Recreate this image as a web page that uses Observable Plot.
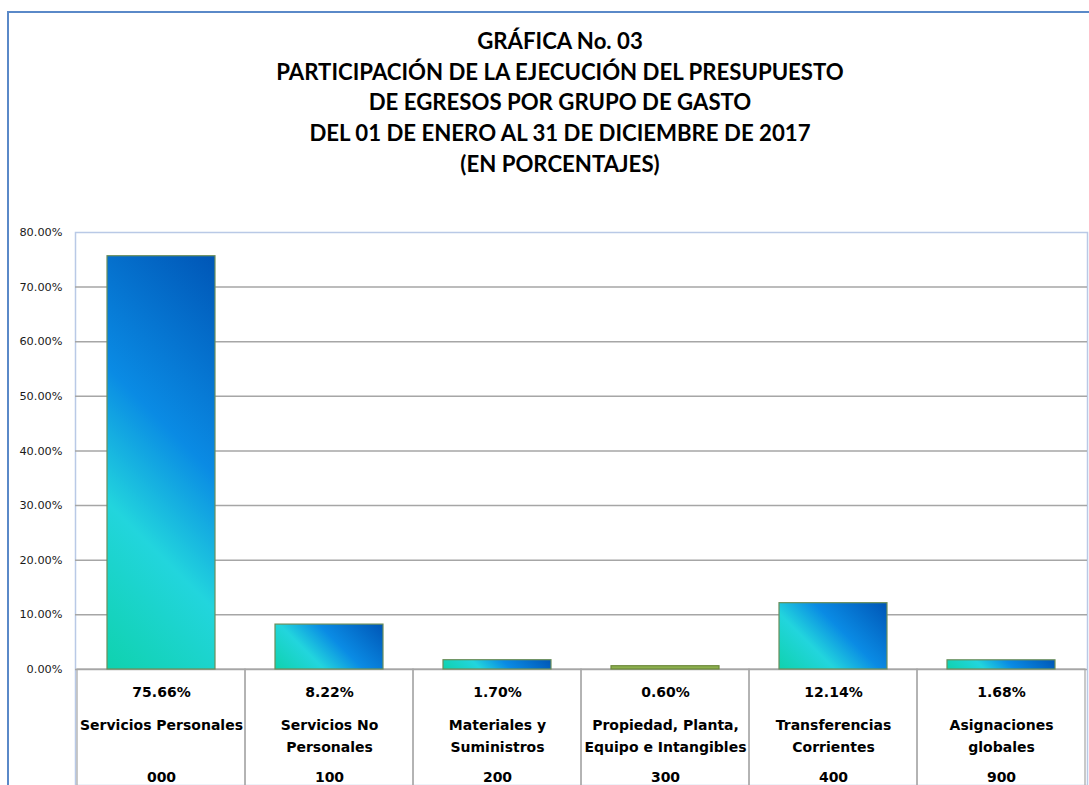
<!DOCTYPE html>
<html><head><meta charset="utf-8">
<script src="https://cdn.jsdelivr.net/npm/d3@7"></script>
<script src="https://cdn.jsdelivr.net/npm/@observablehq/plot@0.6"></script>
<style>
body{margin:0;background:#fff;width:1089px;height:785px;overflow:hidden;position:relative}
#border{position:absolute;left:7px;top:11px;width:1200px;height:900px;border-left:2px solid #5a89c8;border-top:2px solid #5a89c8}
#title{position:absolute;left:0;width:1120px;top:26px;text-align:center;font-family:Lato;font-weight:bold;font-size:22.2px;line-height:30.7px;color:#000}
#chart{position:absolute;left:0;top:200px}
</style></head>
<body>
<div id="border"></div>
<div id="title"></div>
<div id="chart"></div>
<script>
const titleLines = [
  "GRÁFICA No. 03",
  "PARTICIPACIÓN DE LA EJECUCIÓN DEL PRESUPUESTO",
  "DE EGRESOS POR GRUPO DE GASTO",
  "DEL 01 DE ENERO AL 31 DE DICIEMBRE DE 2017",
  "(EN PORCENTAJES)"
];
const codes = ["000", "100", "200", "300", "400", "900"];
const names = [
  "Servicios Personales",
  "Servicios No\nPersonales",
  "Materiales y\nSuministros",
  "Propiedad, Planta,\nEquipo e Intangibles",
  "Transferencias\nCorrientes",
  "Asignaciones\nglobales"
];
const values = [75.66, 8.22, 1.70, 0.60, 12.14, 1.68];
const yTicks = [0, 10, 20, 30, 40, 50, 60, 70, 80];
const gradStops = [[0, "#0fd2ae"], [0.32, "#22d5dd"], [0.58, "#0a8be4"], [1, "#0056b6"]];

document.getElementById("title").innerHTML = titleLines.map(t => `<div>${t}</div>`).join("");

const data = codes.map((c, i) => ({code: c, name: names[i], value: values[i]}));
const tableFont = "DejaVu Sans";

const chart = Plot.plot({
  width: 1089,
  height: 585,
  marginTop: 32,
  marginLeft: 75,
  marginRight: 2,
  marginBottom: 0,
  style: {background: "transparent", overflow: "visible"},
  x: {domain: codes, padding: 0, axis: null},
  y: {domain: [-21.24, 80], axis: null},
  marks: [
    Plot.frame({stroke: "#b9c9e6", strokeWidth: 1.5}),
    Plot.ruleY(yTicks.filter(t => t > 0 && t < 80), {stroke: "#a6a6a6", strokeWidth: 1.5}),
    Plot.barY(data, {x: "code", y1: 0, y2: -30, fill: "none", stroke: "#a6a6a6", strokeWidth: 1.2, clip: "frame"}),
    Plot.ruleY([0], {stroke: "#a6a6a6", strokeWidth: 1.5}),
    Plot.barY(data.filter(d => d.code !== "300"), {x: "code", y: "value", insetLeft: 30, insetRight: 30, fill: "#0a8be4", stroke: "#6b8e5a", strokeWidth: 1.2, className: "gradbar"}),
    Plot.barY(data.filter(d => d.code === "300"), {x: "code", y: "value", insetLeft: 30, insetRight: 30, fill: "#8db04e", stroke: "#6e8a3c", strokeWidth: 1.2}),
    Plot.axisY({ticks: yTicks, tickSize: 0, tickPadding: 13, label: null, tickFormat: d => d.toFixed(2) + "%", fontSize: 11.3, fontFamily: "DejaVu Sans", fill: "#1a1a1a"}),
    Plot.text(data, {x: "code", y: 0, dy: 23, text: d => d.value.toFixed(2) + "%", fontFamily: tableFont, fontWeight: "bold", fontSize: 14, fill: "#000"}),
    Plot.text(data, {x: "code", y: 0, dy: 44.5, text: "name", lineAnchor: "top", lineHeight: 1.58, fontFamily: tableFont, fontWeight: "bold", fontSize: 14, fill: "#000"}),
    Plot.text(data, {x: "code", y: 0, dy: 108, text: "code", fontFamily: tableFont, fontWeight: "bold", fontSize: 14, fill: "#000"})
  ]
});

// per-bar 45° gradient (bottom-left teal to top-right dark blue)
const svg = d3.select(chart);
const defs = svg.insert("defs", ":first-child");
svg.selectAll("g.gradbar rect").each(function(_, i) {
  const r = d3.select(this);
  const x = +r.attr("x"), y = +r.attr("y"), w = +r.attr("width"), h = +r.attr("height");
  const L = (w + h) / 2;
  const g = defs.append("linearGradient")
    .attr("id", "bg" + i)
    .attr("gradientUnits", "userSpaceOnUse")
    .attr("x1", x).attr("y1", y + h)
    .attr("x2", x + L).attr("y2", y + h - L);
  gradStops.forEach(([o, c]) => g.append("stop").attr("offset", o).attr("stop-color", c));
  r.attr("fill", `url(#bg${i})`);
});
document.getElementById("chart").appendChild(chart);
</script>
</body></html>
